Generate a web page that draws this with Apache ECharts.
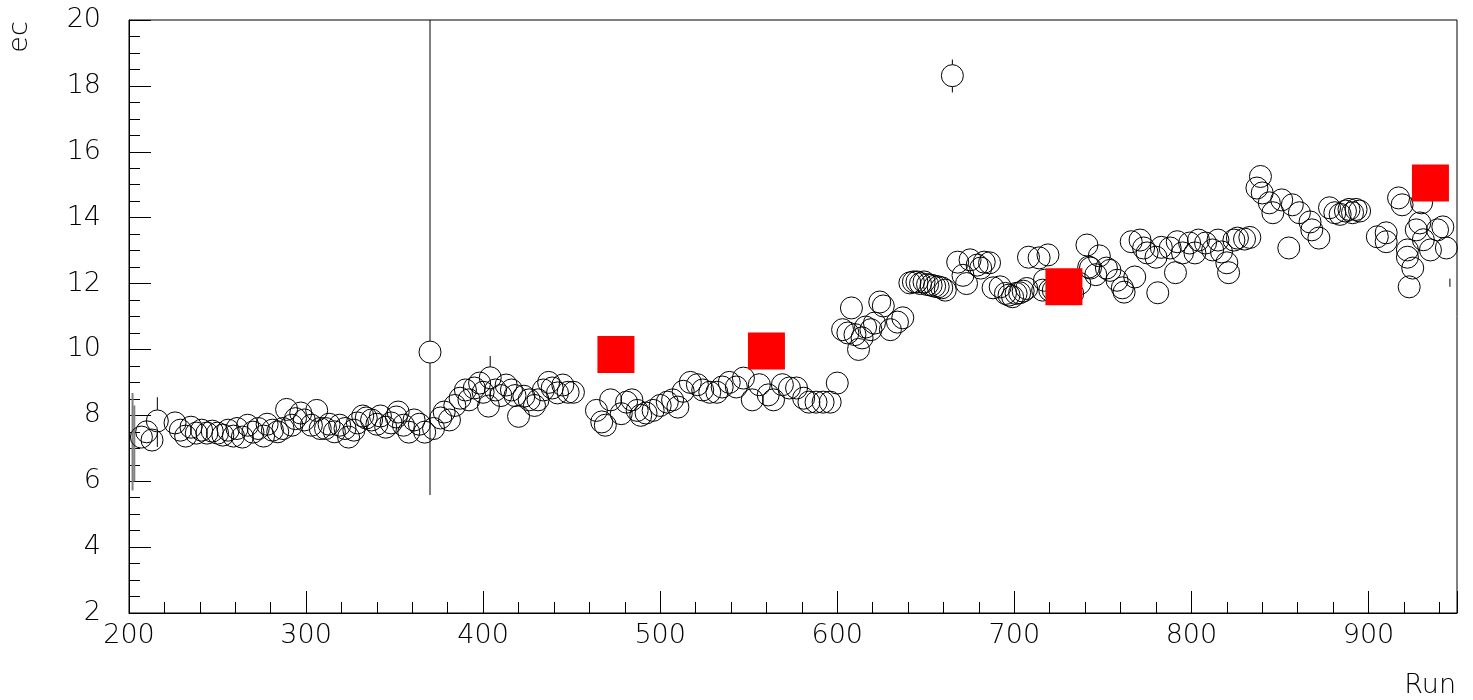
<!DOCTYPE html>
<html>
<head>
<meta charset="utf-8">
<script src="https://cdn.jsdelivr.net/npm/echarts@6/dist/echarts.min.js"></script>
<style>
html,body{margin:0;padding:0;background:#fff;}
#chart{width:1473px;height:700px;}
</style>
</head>
<body>
<div id="chart"></div>
<script>
// ---- data ----
const runs = [
207,210,213,216,226,229,232,235,238,241,244,247,250,253,256,259,261,264,267,270,
273,276,278,281,284,287,289,292,294,297,299,303,306,308,311,313,316,319,322,324,
327,329,332,334,337,340,342,345,348,351,352,355,358,361,364,367,370,372,376,378,
381,384,387,390,392,395,398,400,403,404,407,410,413,416,418,420,423,426,429,431,
434,437,439,442,445,448,451,464,467,469,472,478,481,484,487,489,492,496,500,504,
507,510,513,517,521,524,528,532,535,539,543,547,552,556,561,564,569,573,577,581,
584,588,592,596,600,603,606,608,610,612,614,616,619,621,624,626,630,634,637,641,
643,645,647,649,651,653,655,657,659,661,665,668,671,673,675,679,681,683,686,688,
692,695,697,699,701,703,705,707,708,714,716,717,719,720,722,727,733,737,742,741,
743,746,748,752,754,758,761,762,766,768,771,773,775,780,781,783,788,791,792,795,
799,802,804,808,812,815,817,820,821,824,826,830,833,837,839,840,844,846,851,855,
857,861,867,868,872,878,881,884,887,889,891,893,895,905,910,910,917,919,922,922,
923,925,927,929,930,931,935,939,942,944
];
const ec = [
7.34,7.50,7.25,7.83,7.77,7.55,7.37,7.64,7.46,7.55,7.46,7.52,7.46,7.40,7.55,7.37,7.60,7.34,7.70,7.49,
7.60,7.37,7.73,7.55,7.50,7.60,8.18,7.70,7.90,8.07,7.86,7.70,8.15,7.60,7.60,7.73,7.50,7.70,7.60,7.34,
7.55,7.77,7.98,7.92,7.86,7.73,7.98,7.64,7.77,7.95,8.10,7.70,7.49,7.86,7.73,7.49,9.92,7.60,7.92,8.10,
7.86,8.30,8.52,8.77,8.47,8.83,8.98,8.70,8.28,9.14,8.77,8.60,8.92,8.77,8.60,7.97,8.58,8.47,8.30,8.47,
8.77,9.00,8.83,8.68,8.92,8.70,8.70,8.15,7.80,7.70,8.47,8.05,8.40,8.47,8.15,8.00,8.07,8.15,8.30,8.40,
8.47,8.25,8.73,9.00,8.93,8.77,8.70,8.70,8.86,9.00,8.86,9.13,8.47,8.93,8.62,8.47,8.93,8.83,8.83,8.52,
8.40,8.40,8.40,8.40,8.98,10.60,10.50,11.26,10.45,10.00,10.35,10.68,10.60,10.80,11.44,11.32,10.60,10.83,10.96,12.02,
12.05,12.05,12.00,12.05,11.97,11.95,11.92,11.90,11.87,11.80,18.31,12.65,12.25,12.00,12.72,12.56,12.47,12.65,12.63,11.87,
11.90,11.70,11.65,11.60,11.70,11.72,11.77,11.85,12.80,12.78,11.80,12.10,12.87,11.80,11.80,11.75,11.70,12.00,12.50,13.17,
12.47,12.27,12.84,12.47,12.40,12.10,11.87,11.74,13.27,12.20,13.32,13.08,12.93,12.80,11.72,13.10,13.08,12.33,13.27,12.93,
13.23,12.93,13.32,13.23,13.02,13.32,12.96,12.63,12.33,13.32,13.38,13.35,13.40,14.90,15.25,14.75,14.45,14.15,14.54,13.08,
14.39,14.15,13.87,13.63,13.38,14.30,14.15,14.10,14.20,14.25,14.15,14.25,14.20,13.42,13.54,13.27,14.60,14.39,13.02,12.80,
11.90,12.47,13.63,13.84,14.45,13.33,13.02,13.63,13.72,13.08
];
// reference (red) points
const refRuns = [475, 560, 728, 935];
const refEc   = [9.85, 9.95, 11.9, 15.05];
// error bars: run, central value, low, high
const errRun  = [216, 370, 404, 665, 946];
const errVal  = [7.83, 9.92, 9.14, 18.31, null];
const errLow  = [7.04, 5.58, 8.55, 17.8, 11.9];
const errHigh = [8.55, 21, 9.8, 18.8, 12.15];
// grey error bars at the start
const greyRun  = [202, 203];
const greyLow  = [5.72, 6.0];
const greyHigh = [8.68, 8.3];
// axes
const xMin = 200, xMax = 950, yMin = 2, yMax = 20;
const xTitle = 'Run', yTitle = 'ec';

const pts = runs.map((r, i) => [r, ec[i]]);
const refPts = refRuns.map((r, i) => [r, refEc[i]]);
const errPts = errRun.map((r, i) => [r, errVal[i] == null ? '-' : errVal[i], errLow[i], errHigh[i]]);
const greyPts = greyRun.map((r, i) => [r, '-', greyLow[i], greyHigh[i]]);

const R = 11;
function errRender(color, width) {
  return function (params, api) {
    const x = api.value(0);
    const v = api.value(1);
    const lo = api.coord([x, api.value(2)]);
    const hi = api.coord([x, api.value(3)]);
    const children = [];
    if (isNaN(v)) {
      children.push({type: 'line', shape: {x1: lo[0], y1: lo[1], x2: hi[0], y2: hi[1]},
        style: {stroke: color, lineWidth: width}});
    } else {
      const c = api.coord([x, v]);
      if (lo[1] > c[1] + R) children.push({type: 'line', shape: {x1: lo[0], y1: lo[1], x2: c[0], y2: c[1] + R},
        style: {stroke: color, lineWidth: width}});
      if (hi[1] < c[1] - R) children.push({type: 'line', shape: {x1: c[0], y1: c[1] - R, x2: hi[0], y2: hi[1]},
        style: {stroke: color, lineWidth: width}});
    }
    return {type: 'group', children: children};
  };
}

const FONT = 'DejaVu Sans';
const chart = echarts.init(document.getElementById('chart'), null, {renderer: 'canvas'});
chart.setOption({
  backgroundColor: '#ffffff',
  animation: false,
  grid: {left: 129, right: 16, top: 20, bottom: 87, show: true, borderColor: '#000', borderWidth: 1, backgroundColor: 'transparent'},
  xAxis: {
    type: 'value', min: xMin, max: xMax, interval: 100,
    axisLine: {show: true, onZero: false, lineStyle: {color: '#000', width: 1}},
    axisTick: {show: true, inside: true, length: 22, lineStyle: {color: '#000'}},
    minorTick: {show: true, splitNumber: 5, length: 11, lineStyle: {color: '#000'}},
    splitLine: {show: false},
    axisLabel: {
      color: '#000', fontFamily: FONT, fontWeight: 200, fontSize: 27, margin: 9,
      formatter: v => (v >= xMax ? '' : String(v))
    }
  },
  yAxis: {
    type: 'value', min: yMin, max: yMax, interval: 2,
    axisLine: {show: true, onZero: false, lineStyle: {color: '#000', width: 1}},
    axisTick: {show: true, inside: true, length: 22, lineStyle: {color: '#000'}},
    minorTick: {show: true, splitNumber: 4, length: 11, lineStyle: {color: '#000'}},
    splitLine: {show: false},
    axisLabel: {color: '#000', fontFamily: FONT, fontWeight: 200, fontSize: 27, margin: 28}
  },
  graphic: [
    {type: 'text', x: 1456, y: 686,
     style: {text: xTitle, fill: '#000', font: '200 27px "DejaVu Sans"', align: 'right', verticalAlign: 'middle'}},
    {type: 'text', x: 20, y: 37, rotation: Math.PI / 2,
     style: {text: yTitle, fill: '#000', font: '200 27px "DejaVu Sans"', align: 'center', verticalAlign: 'middle'}}
  ],
  series: [
    {type: 'custom', data: greyPts, renderItem: errRender('#808080', 2), clip: true, z: 1,
     encode: {x: 0, y: [2, 3]}},
    {type: 'custom', data: errPts, renderItem: errRender('#000000', 1), clip: true, z: 2,
     encode: {x: 0, y: [2, 3]}},
    {type: 'scatter', data: pts, symbol: 'circle', symbolSize: 22, clip: true, z: 3,
     itemStyle: {color: 'rgba(0,0,0,0)', borderColor: '#000', borderWidth: 1, opacity: 1},
     emphasis: {disabled: true}},
    {type: 'scatter', data: refPts, symbol: 'rect', symbolSize: 37, clip: true, z: 4,
     itemStyle: {color: '#ff0000', opacity: 1}, emphasis: {disabled: true}}
  ]
});
</script>
</body>
</html>
